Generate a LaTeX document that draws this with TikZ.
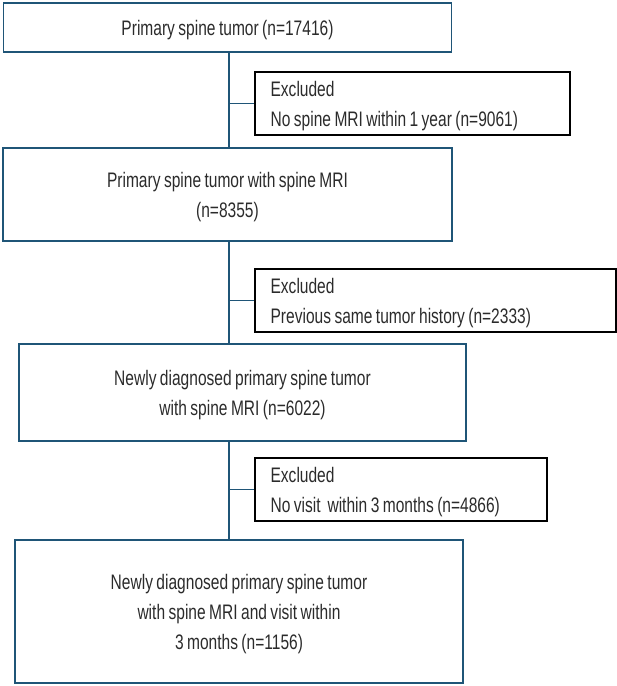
\documentclass[tikz,border=0pt]{standalone}
\usepackage{fontspec}
\setmainfont{Liberation Sans}[FakeStretch=0.74,WordSpace=0.8]
\begin{document}
\begin{tikzpicture}[x=1pt,y=-1pt,
  font=\fontsize{21}{30}\selectfont,
  every node/.style={text=txtc},
  mainbox/.style={draw=boxblue,line width=1.2pt,inner sep=0pt},
  exclbox/.style={draw=black,line width=1.2pt,inner sep=0pt,minimum height=63pt},
  ctext/.style={align=center,inner sep=0pt,yshift=-3pt},
  ltext/.style={align=flush left,inner sep=0pt,anchor=west,yshift=-3pt,xshift=16pt},
  link/.style={draw=boxblue,line width=1.2pt}]
\definecolor{boxblue}{HTML}{1F5577}
\definecolor{txtc}{HTML}{2B2B2B}
\useasboundingbox (0,0) rectangle (617,686);
\node[mainbox,minimum width=448pt,minimum height=49pt] (b1) at (227.5,27.5) {};
\node[ctext] (t1) at (b1.center) {Primary spine tumor (n=17416)};
\node[mainbox,minimum width=449pt,minimum height=93pt] (b2) at (227.5,194.5) {};
\node[ctext] (t2) at (b2.center) {Primary spine tumor with spine MRI\\(n=8355)};
\node[mainbox,minimum width=447pt,minimum height=97pt] (b3) at (242.5,392.5) {};
\node[ctext] (t3) at (b3.center) {Newly diagnosed primary spine tumor\\with spine MRI (n=6022)};
\node[mainbox,minimum width=448pt,minimum height=143pt] (b4) at (239,611.5) {};
\node[ctext] (t4) at (b4.center) {Newly diagnosed primary spine tumor\\with spine MRI and visit within\\3 months (n=1156)};
\node[exclbox,minimum width=315pt] (e1) at (412.5,103.5) {};
\node[ltext] (u1) at (e1.west) {Excluded\\No spine MRI within 1 year (n=9061)};
\node[exclbox,minimum width=361pt] (e2) at (435.5,300.5) {};
\node[ltext] (u2) at (e2.west) {Excluded\\Previous same tumor history (n=2333)};
\node[exclbox,minimum width=292pt] (e3) at (401,489.5) {};
\node[ltext] (u3) at (e3.west) {Excluded\\No visit\ \ within 3 months (n=4866)};
\coordinate (sp) at (229,0);
\draw[link] (b1.south -| sp) -- (b2.north -| sp);
\draw[link] (b2.south -| sp) -- (b3.north -| sp);
\draw[link] (b3.south -| sp) -- (b4.north -| sp);
\draw[link] (sp |- e1.west) -- (e1.west);
\draw[link] (sp |- e2.west) -- (e2.west);
\draw[link] (sp |- e3.west) -- (e3.west);
\end{tikzpicture}
\end{document}
